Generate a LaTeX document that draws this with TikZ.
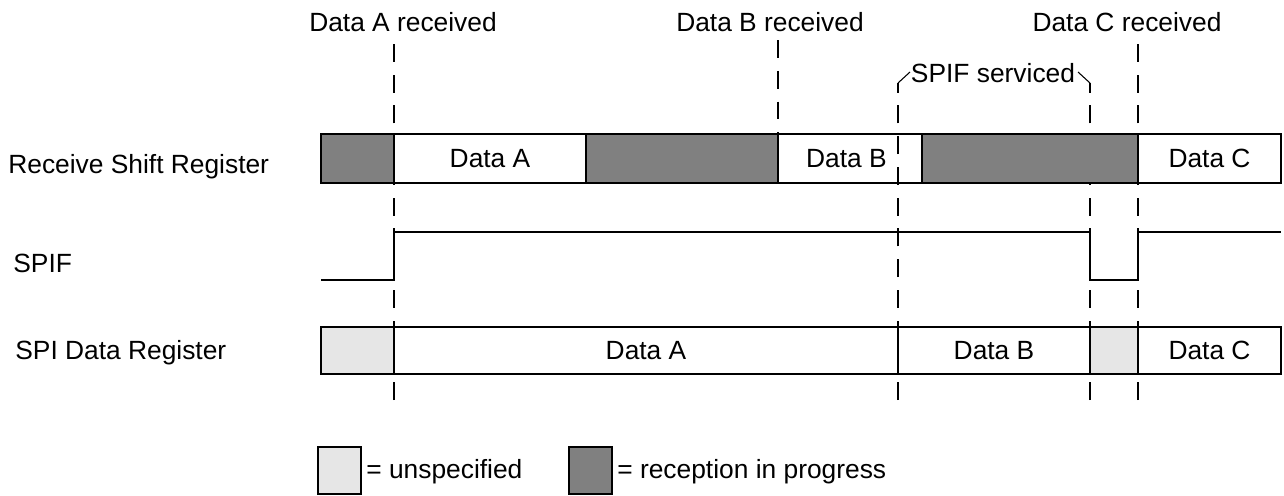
\documentclass[tikz,border=0pt]{standalone}
\usepackage{xcolor}
\usepackage{tikz}
\usepackage{fontspec}
\setmainfont{Liberation Sans}
\usetikzlibrary{positioning}
\definecolor{BusyGray}{HTML}{808080}
\definecolor{UnspecGray}{HTML}{E6E6E6}

\begin{document}
\begin{tikzpicture}[
      x=0.02cm, y=-0.02cm,
      every node/.style={font=\fontsize{15}{18}\selectfont, inner sep=0pt},
      seg/.style={draw=black, line width=0.7pt},
      busy/.style={seg, fill=BusyGray},
      unspec/.style={seg, fill=UnspecGray},
      guide/.style={line width=0.6pt, dash pattern=on 10.2pt off 7.3pt},
      wave/.style={line width=0.7pt}
    ]
      \useasboundingbox (0,0) rectangle (1284,495);
      % event labels
      \node[anchor=base] (recvA) at (403,31) {Data A received};
      \node[anchor=base] (recvB) at (770,31) {Data B received};
      \node[anchor=base] (recvC) at (1127,31) {Data C received};
      \node[anchor=base] (serviced) at (993,82) {SPIF serviced};
      % guide lines (drawn bottom up)
      \draw[guide] (394,400) -- (394,40);
      \draw[guide] (778,40) -- (778,134);
      \draw[guide] (1138,400) -- (1138,40);
      \draw[guide] (898,400) -- (898,83);
      \draw[guide] (1090,400) -- (1090,83);
      \draw[line width=0.6pt] (898,83) -- (910,72);
      \draw[line width=0.6pt] (1078,72) -- (1090,83);
      % row labels
      \node[anchor=base west] (rsrlbl) at (8,173) {Receive Shift Register};
      \node[anchor=base west] (spiflbl) at (13,272) {SPIF};
      \node[anchor=base west] (spdrlbl) at (15,359) {SPI Data Register};
      % receive shift register
      \draw[busy] (321,134) rectangle (394,183);
      \draw[seg] (394,134) rectangle node (rsrA) {Data A} (586,183);
      \draw[busy] (586,134) rectangle (778,183);
      \draw[seg] (778,134) rectangle node[xshift=-2pt] (rsrB) {Data B} (922,183);
      \draw[busy] (922,134) rectangle (1138,183);
      \draw[seg] (1138,134) rectangle node (rsrC) {Data C} (1281,183);
      % SPIF
      \draw[wave] (321,280) -- (394,280) -- (394,232) -- (1090,232) -- (1090,280)
        -- (1138,280) -- (1138,232) -- (1281,232);
      % SPI data register
      \draw[unspec] (321,327) rectangle (394,374);
      \draw[seg] (394,327) rectangle node (spdrA) {Data A} (898,374);
      \draw[seg] (898,327) rectangle node (spdrB) {Data B} (1090,374);
      \draw[unspec] (1090,327) rectangle (1138,374);
      \draw[seg] (1138,327) rectangle node (spdrC) {Data C} (1281,374);
      % legend
      \draw[unspec] (318,447) rectangle (361,494);
      \node[anchor=base west] (unspeclbl) at (366,478) {= unspecified};
      \draw[busy] (569,447) rectangle (612,494);
      \node[anchor=base west] (busylbl) at (617,478) {= reception in progress};
    \end{tikzpicture}
\end{document}
